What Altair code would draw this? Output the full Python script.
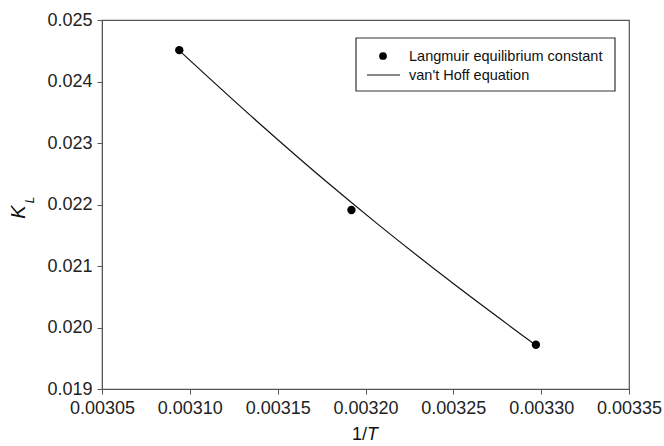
import altair as alt
import pandas as pd

# Data
inv_T = [0.003094, 0.003192, 0.003297]
K_L = [0.02451, 0.02191, 0.01972]

fit_inv_T = [0.0030946, 0.0031377, 0.0031809, 0.0032054, 0.0032509, 0.0032968]
fit_K = [0.024488, 0.023367, 0.022296, 0.021718, 0.020694, 0.019716]

x_ticks = [0.00305, 0.00310, 0.00315, 0.00320, 0.00325, 0.00330, 0.00335]
y_ticks = [0.019, 0.020, 0.021, 0.022, 0.023, 0.024, 0.025]

legend_labels = ["Langmuir equilibrium constant", "van't Hoff equation"]

FONT = "Liberation Sans"
W, H = 527, 369

pts = pd.DataFrame({"x": inv_T, "y": K_L})
fit = pd.DataFrame({"x": fit_inv_T, "y": fit_K})

xs = alt.Scale(domain=[0.00305, 0.00335], nice=False, zero=False)
ys = alt.Scale(domain=[0.019, 0.025], nice=False, zero=False)

xax = alt.Axis(values=x_ticks, format=".5f", title=None, grid=False,
               tickSize=5, labelPadding=5, labelFontSize=18, labelFont=FONT,
               labelColor="#222", domainColor="#555", tickColor="#555",
               labelFlush=False)
yax = alt.Axis(values=y_ticks, format=".3f", title=None, grid=False,
               tickSize=5, labelPadding=5, labelFontSize=18, labelFont=FONT,
               labelColor="#222", domainColor="#555", tickColor="#555")

line = alt.Chart(fit).mark_line(color="#111", strokeWidth=1.2, interpolate="monotone").encode(
    x=alt.X("x:Q", scale=xs, axis=xax),
    y=alt.Y("y:Q", scale=ys, axis=yax),
)
points = alt.Chart(pts).mark_circle(color="black", opacity=1, size=70).encode(
    x=alt.X("x:Q", scale=xs),
    y=alt.Y("y:Q", scale=ys),
)

one = pd.DataFrame({"a": [0]})

# Legend box
leg_box = alt.Chart(one).mark_rect(fill="white", stroke="#333", strokeWidth=1.2).encode(
    x=alt.value(254), x2=alt.value(513), y=alt.value(18), y2=alt.value(71)
)
leg_dot = alt.Chart(one).mark_circle(color="black", opacity=1, size=60).encode(
    x=alt.value(281), y=alt.value(36)
)
leg_line = alt.Chart(one).mark_rule(color="#111", strokeWidth=1.2).encode(
    x=alt.value(265), x2=alt.value(298), y=alt.value(55)
)
leg_t1 = alt.Chart(pd.DataFrame({"t": [legend_labels[0]]})).mark_text(
    align="left", baseline="middle", fontSize=14.5, font=FONT, color="#111"
).encode(x=alt.value(307), y=alt.value(37), text="t:N")
leg_t2 = alt.Chart(pd.DataFrame({"t": [legend_labels[1]]})).mark_text(
    align="left", baseline="middle", fontSize=14.5, font=FONT, color="#111"
).encode(x=alt.value(307), y=alt.value(56), text="t:N")

# Axis titles
ytitle_K = alt.Chart(pd.DataFrame({"t": ["K"]})).mark_text(
    angle=270, fontSize=20, font=FONT, fontStyle="italic", color="#111",
    align="center", baseline="middle"
).encode(x=alt.value(-83), y=alt.value(192), text="t:N")
ytitle_L = alt.Chart(pd.DataFrame({"t": ["L"]})).mark_text(
    angle=270, fontSize=12, font=FONT, fontStyle="italic", color="#111",
    align="center", baseline="middle"
).encode(x=alt.value(-72), y=alt.value(180), text="t:N")
xtitle_a = alt.Chart(pd.DataFrame({"t": ["1/"]})).mark_text(
    fontSize=18, font=FONT, color="#111", align="right", baseline="middle"
).encode(x=alt.value(265), y=alt.value(H + 46), text="t:N")
xtitle_b = alt.Chart(pd.DataFrame({"t": ["T"]})).mark_text(
    fontSize=18, font=FONT, fontStyle="italic", color="#111", align="left", baseline="middle"
).encode(x=alt.value(265), y=alt.value(H + 46), text="t:N")

chart = alt.layer(
    line, points, leg_box, leg_dot, leg_line, leg_t1, leg_t2,
    ytitle_K, ytitle_L, xtitle_a, xtitle_b
).properties(
    width=W, height=H,
    padding={"left": 102, "top": 20, "right": 35, "bottom": 57},
    autosize=alt.AutoSizeParams(type="none"),
    background="white",
).configure_view(stroke="#555", strokeWidth=1.2)

chart.save("out.html", embed_options={"renderer": "svg", "actions": False})
